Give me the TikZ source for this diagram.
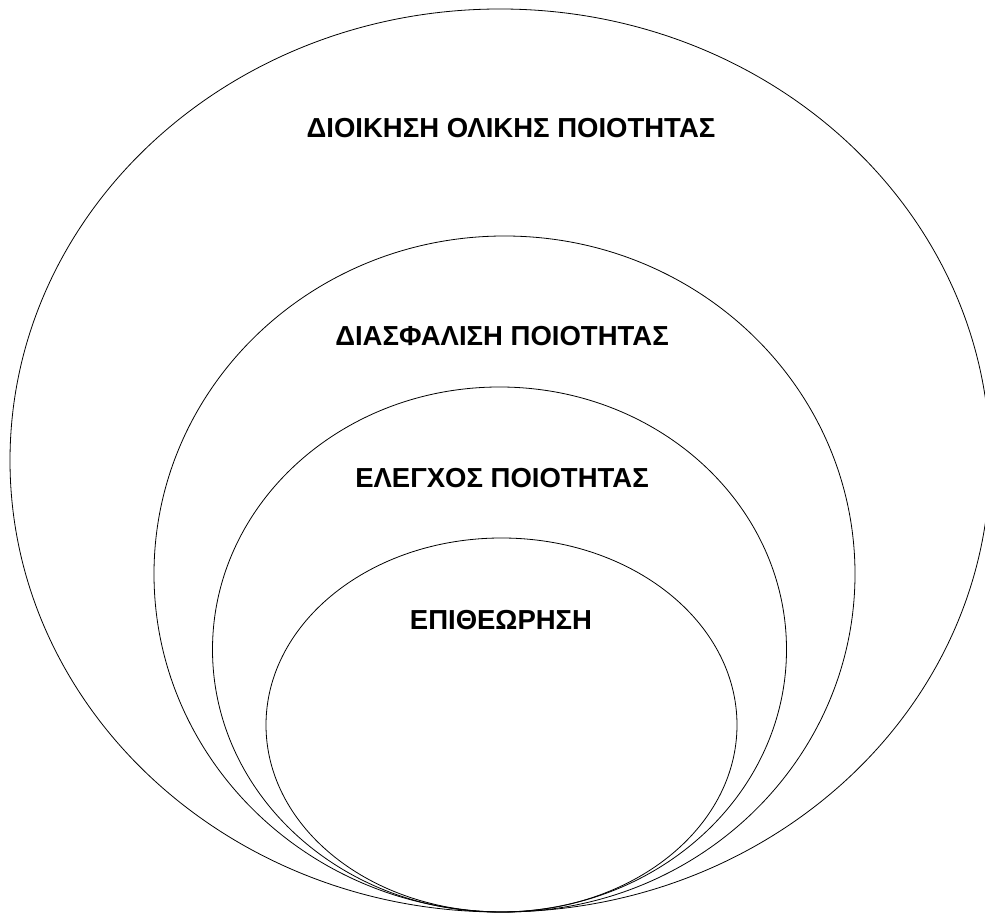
\documentclass[tikz,border=0pt]{standalone}
\usepackage{fontspec}
\setmainfont{Liberation Sans}
\begin{document}
\begin{tikzpicture}[x=1pt,y=1pt,
  ring/.style={draw=black,line width=0.8pt},
  tier/.style={font=\bfseries\fontsize{27.5}{32}\selectfont,inner sep=0pt,anchor=center}]
\useasboundingbox (0,0) rectangle (985,916);
% nested quality levels, all touching at the bottom
\draw[ring] (500,455.5) ellipse [x radius=490, y radius=451.5];
\draw[ring] (504.5,342) ellipse [x radius=350.5, y radius=338];
\draw[ring] (499.5,266.5) ellipse [x radius=287, y radius=262.5];
\draw[ring] (501.5,191) ellipse [x radius=235.5, y radius=187];
\node[tier] (tqm) at (511,788) {ΔΙΟΙΚΗΣΗ ΟΛΙΚΗΣ ΠΟΙΟΤΗΤΑΣ};
\node[tier] (qa)  at (502,580) {ΔΙΑΣΦΑΛΙΣΗ ΠΟΙΟΤΗΤΑΣ};
\node[tier] (qc)  at (502,438) {ΕΛΕΓΧΟΣ ΠΟΙΟΤΗΤΑΣ};
\node[tier] (ins) at (501,296) {ΕΠΙΘΕΩΡΗΣΗ};
\end{tikzpicture}
\end{document}
